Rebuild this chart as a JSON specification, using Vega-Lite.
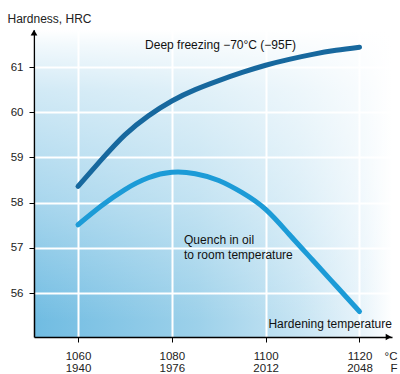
{
  "$schema": "https://vega.github.io/schema/vega-lite/v6.json",
  "width": 358,
  "height": 307,
  "autosize": "none",
  "padding": {"left": 34, "top": 30, "right": 8, "bottom": 37},
  "background": "white",
  "view": {
    "stroke": null,
    "fill": {
      "gradient": "linear",
      "x1": 0, "y1": 0, "x2": 1, "y2": 0,
      "stops": [
        {"offset": 0, "color": "#70bce2"},
        {"offset": 0.46, "color": "#9dd1ea"},
        {"offset": 0.74, "color": "#c6e4f3"},
        {"offset": 0.91, "color": "#e6f3fa"},
        {"offset": 1, "color": "#ffffff"}
      ]
    }
  },
  "config": {
    "font": "Liberation Sans",
    "text": {"font": "Liberation Sans"}
  },
  "datasets": {
    "curves": [
      {"temp": 1060, "hrc": 58.36, "series": "Deep freezing"},
      {"temp": 1065, "hrc": 58.95, "series": "Deep freezing"},
      {"temp": 1070, "hrc": 59.5, "series": "Deep freezing"},
      {"temp": 1075, "hrc": 59.92, "series": "Deep freezing"},
      {"temp": 1080, "hrc": 60.25, "series": "Deep freezing"},
      {"temp": 1085, "hrc": 60.5, "series": "Deep freezing"},
      {"temp": 1090, "hrc": 60.7, "series": "Deep freezing"},
      {"temp": 1095, "hrc": 60.88, "series": "Deep freezing"},
      {"temp": 1100, "hrc": 61.04, "series": "Deep freezing"},
      {"temp": 1105, "hrc": 61.17, "series": "Deep freezing"},
      {"temp": 1110, "hrc": 61.28, "series": "Deep freezing"},
      {"temp": 1115, "hrc": 61.37, "series": "Deep freezing"},
      {"temp": 1120, "hrc": 61.44, "series": "Deep freezing"},
      {"temp": 1060, "hrc": 57.51, "series": "Quench in oil"},
      {"temp": 1065, "hrc": 57.93, "series": "Quench in oil"},
      {"temp": 1070, "hrc": 58.29, "series": "Quench in oil"},
      {"temp": 1075, "hrc": 58.55, "series": "Quench in oil"},
      {"temp": 1080, "hrc": 58.67, "series": "Quench in oil"},
      {"temp": 1085, "hrc": 58.64, "series": "Quench in oil"},
      {"temp": 1090, "hrc": 58.49, "series": "Quench in oil"},
      {"temp": 1095, "hrc": 58.22, "series": "Quench in oil"},
      {"temp": 1100, "hrc": 57.85, "series": "Quench in oil"},
      {"temp": 1105, "hrc": 57.3, "series": "Quench in oil"},
      {"temp": 1110, "hrc": 56.73, "series": "Quench in oil"},
      {"temp": 1115, "hrc": 56.16, "series": "Quench in oil"},
      {"temp": 1120, "hrc": 55.59, "series": "Quench in oil"}
    ]
  },
  "layer": [
    {
      "data": {"values": [{}]},
      "mark": {
        "type": "rect",
        "fill": {
          "gradient": "linear",
          "x1": 0, "y1": 0, "x2": 0, "y2": 1,
          "stops": [
            {"offset": 0, "color": "rgba(255,255,255,1)"},
            {"offset": 0.05, "color": "rgba(255,255,255,0.9)"},
            {"offset": 0.2, "color": "rgba(255,255,255,0.68)"},
            {"offset": 0.42, "color": "rgba(255,255,255,0.5)"},
            {"offset": 0.55, "color": "rgba(255,255,255,0.4)"},
            {"offset": 0.95, "color": "rgba(255,255,255,0)"},
            {"offset": 1, "color": "rgba(255,255,255,0)"}
          ]
        }
      },
      "encoding": {
        "x": {"datum": 1050.85, "type": "quantitative"},
        "x2": {"datum": 1126.93},
        "y": {"datum": 61.82, "type": "quantitative"},
        "y2": {"datum": 55.06}
      }
    },
    {
      "data": {"name": "curves"},
      "mark": {"type": "line", "strokeWidth": 5, "strokeCap": "round", "interpolate": "natural"},
      "encoding": {
        "x": {
          "field": "temp", "type": "quantitative",
          "scale": {"domain": [1050.62, 1126.93], "nice": false, "zero": false},
          "axis": {
            "values": [1060, 1080, 1100, 1120],
            "grid": true, "gridColor": "white", "gridWidth": 2, "gridOpacity": 1,
            "domainColor": "black", "domainWidth": 1.5,
            "tickColor": "black", "tickSize": 5, "tickWidth": 1,
            "labelFont": "Liberation Sans", "labelFontSize": 11.5, "labelColor": "#222",
            "labelExpr": "[format(datum.value, 'd'), format(datum.value * 1.8 + 32, 'd')]",
            "labelLineHeight": 12, "labelPadding": 8, "labelBaseline": "top",
            "title": ["°C", "F"],
            "titleFont": "Liberation Sans", "titleFontSize": 11.5, "titleFontWeight": "normal", "titleColor": "#222",
            "titleAlign": "right", "titleAnchor": null, "titleBaseline": "alphabetic",
            "titleX": 363, "titleY": 22, "titleLineHeight": 12
          }
        },
        "y": {
          "field": "hrc", "type": "quantitative",
          "scale": {"domain": [55.027, 61.82], "nice": false, "zero": false},
          "axis": {
            "values": [56, 57, 58, 59, 60, 61],
            "grid": true, "gridColor": "white", "gridWidth": 2, "gridOpacity": 1,
            "domainColor": "black", "domainWidth": 1.5,
            "tickColor": "black", "tickSize": 5, "tickWidth": 1,
            "labelFont": "Liberation Sans", "labelFontSize": 11.5, "labelColor": "#222",
            "labelPadding": 6,
            "title": "Hardness, HRC",
            "titleFont": "Liberation Sans", "titleFontSize": 12, "titleFontWeight": "normal", "titleColor": "#222",
            "titleAngle": 0, "titleAlign": "left", "titleBaseline": "middle", "titleAnchor": null,
            "titleX": -27, "titleY": -12
          }
        },
        "color": {
          "field": "series", "type": "nominal",
          "scale": {"domain": ["Deep freezing", "Quench in oil"], "range": ["#17689e", "#1c9bd7"]},
          "legend": null
        },
        "detail": {"field": "series"}
      }
    },
    {
      "data": {"values": [{}]},
      "mark": {"type": "point", "shape": "triangle-up", "filled": true, "color": "black", "opacity": 1, "size": 45},
      "encoding": {
        "x": {"datum": 1050.62, "type": "quantitative"},
        "y": {"datum": 61.76, "type": "quantitative"}
      }
    },
    {
      "data": {"values": [{}]},
      "mark": {"type": "point", "shape": "triangle-right", "filled": true, "color": "black", "opacity": 1, "size": 45},
      "encoding": {
        "x": {"datum": 1126.2, "type": "quantitative"},
        "y": {"datum": 55.027, "type": "quantitative"}
      }
    },
    {
      "data": {"values": [{}]},
      "mark": {"type": "text", "text": "Deep freezing \u221270°C (\u221295F)", "align": "left", "baseline": "middle", "fontSize": 12, "color": "#111"},
      "encoding": {
        "x": {"datum": 1074.3, "type": "quantitative"},
        "y": {"datum": 61.49, "type": "quantitative"}
      }
    },
    {
      "data": {"values": [{}]},
      "mark": {"type": "text", "text": ["Quench in oil", "to room temperature"], "align": "left", "baseline": "middle", "fontSize": 12, "lineHeight": 15, "color": "#111"},
      "encoding": {
        "x": {"datum": 1082.6, "type": "quantitative"},
        "y": {"datum": 57.18, "type": "quantitative"}
      }
    },
    {
      "data": {"values": [{}]},
      "mark": {"type": "text", "text": "Hardening temperature", "align": "right", "baseline": "middle", "fontSize": 12, "color": "#111"},
      "encoding": {
        "x": {"datum": 1126.9, "type": "quantitative"},
        "y": {"datum": 55.31, "type": "quantitative"}
      }
    }
  ]
}
